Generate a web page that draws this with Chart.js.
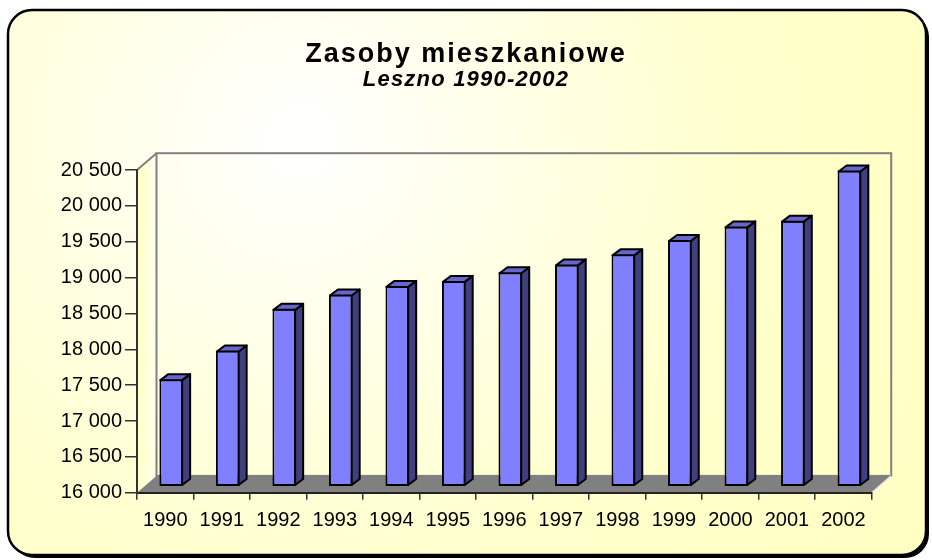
<!DOCTYPE html>
<html>
<head>
<meta charset="utf-8">
<script src="https://cdn.jsdelivr.net/npm/chart.js@4/dist/chart.umd.min.js"></script>
<style>
html,body{margin:0;padding:0;background:#ffffff;}
#wrap{width:932px;height:560px;position:relative;}
</style>
</head>
<body>
<div id="wrap"><canvas id="c" width="932" height="560"></canvas></div>
<script>
// ---- data ----
const categories = ['1990','1991','1992','1993','1994','1995','1996','1997','1998','1999','2000','2001','2002'];
const values = [17500, 17900, 18480, 18680, 18800, 18870, 18990, 19100, 19240, 19440, 19630, 19710, 20410];
const yTickValues = [16000, 16500, 17000, 17500, 18000, 18500, 19000, 19500, 20000, 20500];
const titleText = 'Zasoby mieszkaniowe';
const subtitleText = 'Leszno 1990-2002';

// ---- styling / 3D geometry ----
const FONT = "'Liberation Sans', Arial, Helvetica, sans-serif";
const DX = 19.5, DY = 16.8;   // wall depth offset
const BX = 6, BY = 6;         // bar front face offset into the depth
const BDX = 8, BDY = 6;       // bar depth
const fmt = v => String(v).replace(/\B(?=(\d{3})+(?!\d))/g, ' ');

function roundRectPath(ctx, x, y, w, h, r) {
  ctx.beginPath();
  ctx.moveTo(x + r, y);
  ctx.lineTo(x + w - r, y);
  ctx.arcTo(x + w, y, x + w, y + r, r);
  ctx.lineTo(x + w, y + h - r);
  ctx.arcTo(x + w, y + h, x + w - r, y + h, r);
  ctx.lineTo(x + r, y + h);
  ctx.arcTo(x, y + h, x, y + h - r, r);
  ctx.lineTo(x, y + r);
  ctx.arcTo(x, y, x + r, y, r);
  ctx.closePath();
}

const scene = {
  id: 'scene',
  afterInit(chart) {
    chart.boxes.forEach(b => {
      if (b.options && (b.options.text === titleText || b.options.text === subtitleText)) {
        const sp = b.options.text === titleText ? '2px' : '1.2px';
        const orig = b.draw.bind(b);
        b.draw = function (area) {
          const ctx = this.ctx;
          ctx.save();
          try { ctx.letterSpacing = sp; } catch (e) {}
          orig(area);
          ctx.restore();
        };
      }
    });
  },
  beforeDraw(chart) {
    const ctx = chart.ctx;
    const a = chart.chartArea;
    ctx.save();
    // outer box shadow
    roundRectPath(ctx, 11, 13, 918, 545, 24);
    ctx.fillStyle = '#000';
    ctx.fill();
    // outer box
    roundRectPath(ctx, 8, 10, 918, 545, 24);
    const g = ctx.createRadialGradient(300, 140, 0, 300, 140, 700);
    g.addColorStop(0, '#FFFFFF');
    g.addColorStop(0.65, '#FFFFCC');
    g.addColorStop(1, '#FFFFC4');
    ctx.fillStyle = g;
    ctx.fill();
    ctx.lineWidth = 2.5;
    ctx.strokeStyle = '#000';
    ctx.stroke();

    // side wall
    ctx.beginPath();
    ctx.moveTo(a.left, a.top);
    ctx.lineTo(a.left + DX, a.top - DY);
    ctx.lineTo(a.left + DX, a.bottom - DY);
    ctx.lineTo(a.left, a.bottom);
    ctx.closePath();
    const sg = ctx.createLinearGradient(a.left, 0, a.left + DX, 0);
    sg.addColorStop(0, '#FFFFC4');
    sg.addColorStop(1, '#FFFFEE');
    ctx.fillStyle = sg;
    ctx.fill();

    // back wall border
    ctx.lineWidth = 2;
    ctx.strokeStyle = '#808080';
    ctx.strokeRect(a.left + DX, a.top - DY, a.right - a.left, a.bottom - a.top);
    // side wall top edge
    ctx.beginPath();
    ctx.moveTo(a.left, a.top);
    ctx.lineTo(a.left + DX, a.top - DY);
    ctx.stroke();

    // floor
    ctx.beginPath();
    ctx.moveTo(a.left, a.bottom);
    ctx.lineTo(a.left + DX, a.bottom - DY);
    ctx.lineTo(a.right + DX, a.bottom - DY);
    ctx.lineTo(a.right, a.bottom);
    ctx.closePath();
    ctx.fillStyle = '#808080';
    ctx.fill();
    ctx.beginPath();
    ctx.moveTo(a.right, a.bottom);
    ctx.lineTo(a.right + DX, a.bottom - DY);
    ctx.strokeStyle = '#E8E8E8';
    ctx.lineWidth = 1.5;
    ctx.stroke();
    ctx.restore();
  },
  beforeDatasetsDraw(chart) {
    chart.ctx.save();
    chart.ctx.translate(BX, -BY);
  },
  afterDatasetsDraw(chart) {
    const ctx = chart.ctx;
    ctx.lineWidth = 2;
    ctx.strokeStyle = '#000';
    ctx.lineJoin = 'round';
    chart.getDatasetMeta(0).data.forEach(bar => {
      const p = bar.getProps(['x', 'y', 'base', 'width'], true);
      const L = p.x - p.width / 2 + 1, R = p.x + p.width / 2 - 1, T = p.y + 1, B = p.base - 1;
      // side face
      ctx.beginPath();
      ctx.moveTo(R, T);
      ctx.lineTo(R + BDX, T - BDY);
      ctx.lineTo(R + BDX, B - BDY);
      ctx.lineTo(R, B);
      ctx.closePath();
      ctx.fillStyle = '#40407F';
      ctx.fill();
      ctx.stroke();
      // top face
      ctx.beginPath();
      ctx.moveTo(L, T);
      ctx.lineTo(L + BDX, T - BDY);
      ctx.lineTo(R + BDX, T - BDY);
      ctx.lineTo(R, T);
      ctx.closePath();
      ctx.fillStyle = '#6666CC';
      ctx.fill();
      ctx.stroke();
    });
    ctx.restore();
  }
};

new Chart(document.getElementById('c'), {
  type: 'bar',
  data: {
    labels: categories,
    datasets: [{
      label: 'Zasoby mieszkaniowe',
      data: values,
      base: yTickValues[0],
      backgroundColor: '#8080FF',
      borderColor: '#000000',
      borderWidth: 2,
      borderSkipped: false,
      categoryPercentage: 1.0,
      barPercentage: 0.42,
      clip: false
    }]
  },
  options: {
    responsive: false,
    devicePixelRatio: 1,
    animation: false,
    layout: { padding: { left: 0, right: 0, top: 0, bottom: 0 } },
    plugins: {
      legend: { display: false },
      tooltip: { enabled: false },
      title: {
        display: true,
        text: titleText,
        color: '#000',
        font: { family: FONT, size: 27, weight: 'bold', lineHeight: 1.0 },
        padding: { top: 40.8, bottom: 0 }
      },
      subtitle: {
        display: true,
        text: subtitleText,
        color: '#000',
        font: { family: FONT, size: 22, weight: 'bold', style: 'italic', lineHeight: 1.0 },
        padding: { top: 1.2, bottom: 79 }
      }
    },
    scales: {
      x: {
        type: 'category',
        offset: true,
        grid: { display: true, offset: true, drawOnChartArea: false, drawTicks: true, tickLength: 7, color: '#333', lineWidth: 1.5 },
        border: { display: true, color: '#222', width: 2 },
        ticks: { color: '#000', font: { family: FONT, size: 20 }, padding: 9, maxRotation: 0, autoSkip: false },
        afterFit(s) { s.height = 67.3; }
      },
      y: {
        type: 'linear',
        position: 'left',
        min: 16000,
        max: 20500,
        afterBuildTicks(s) { s.ticks = yTickValues.map(v => ({ value: v })); },
        grid: { display: true, drawOnChartArea: false, drawTicks: true, tickLength: 12, color: '#333', lineWidth: 1.5 },
        border: { display: true, color: '#333', width: 2 },
        ticks: { color: '#000', font: { family: FONT, size: 20 }, padding: 3, callback: v => fmt(v) },
        afterFit(s) { s.width = 137; }
      },
      yRight: {
        type: 'linear',
        position: 'right',
        display: true,
        min: 0,
        max: 1,
        grid: { display: false },
        border: { display: false },
        ticks: { display: false },
        afterFit(s) { s.width = 60.3; }
      }
    }
  },
  plugins: [scene]
});
</script>
</body>
</html>
